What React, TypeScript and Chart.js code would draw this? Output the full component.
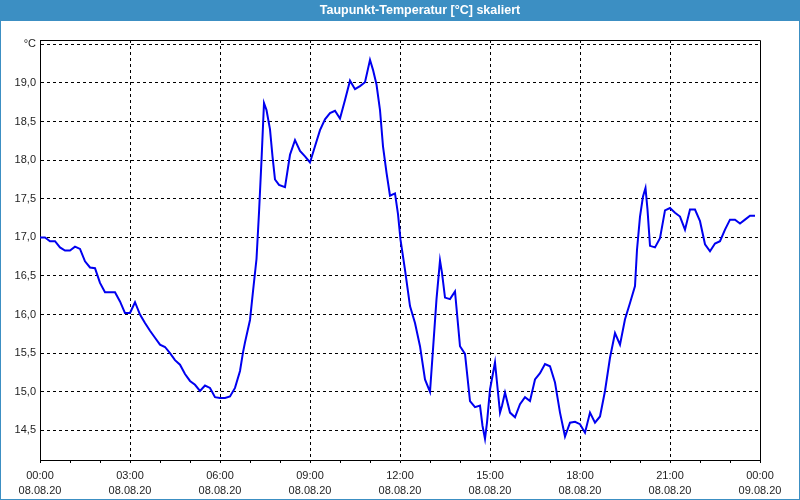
import React, { useEffect, useRef } from "react";
import { Chart, registerables } from "chart.js";

Chart.register(...registerables);

const TITLE = "Taupunkt-Temperatur [°C] skaliert";
const UNIT = "°C";

// minutes since 08.08.20 00:00
const times: number[] = [
  0, 10, 20, 30, 40, 50, 60, 70, 80, 90,
  100, 110, 120, 130, 140, 150, 160, 170, 180, 190,
  200, 210, 220, 230, 240, 250, 260, 270, 280, 290,
  300, 310, 320, 330, 340, 350, 360, 370, 380, 390,
  400, 406, 410, 420, 426, 433, 438, 443, 448, 453,
  460, 465, 470, 478, 490, 500, 510, 520, 530, 540,
  550, 560, 570, 580, 590, 600, 610, 620, 630, 640,
  650, 660, 666, 673, 680, 686, 693, 700, 710, 716,
  721, 730, 740, 750, 760, 770, 780, 786, 793, 800,
  804, 810, 820, 830, 840, 850, 860, 870, 880, 885,
  890, 894, 900, 910, 914, 920, 924, 930, 940, 950,
  960, 970, 980, 990, 1000, 1010, 1020, 1030, 1040, 1050,
  1060, 1070, 1080, 1090, 1100, 1110, 1120, 1130, 1140, 1150,
  1160, 1170, 1180, 1190, 1194, 1200, 1206, 1211, 1215, 1220,
  1230, 1240, 1250, 1260, 1270, 1280, 1290, 1300, 1310, 1320,
  1330, 1340, 1350, 1360, 1370, 1380, 1390, 1400, 1410, 1420,
  1430,
];

const dewPoint: number[] = [
  17.0, 17.0, 16.95, 16.95, 16.87, 16.83, 16.83, 16.88, 16.85, 16.69,
  16.61, 16.6, 16.41, 16.29, 16.29, 16.29, 16.17, 16.02, 16.02, 16.16,
  16.0, 15.89, 15.79, 15.7, 15.61, 15.58, 15.5, 15.41, 15.35, 15.23,
  15.14, 15.09, 15.01, 15.08, 15.05, 14.93, 14.92, 14.92, 14.94, 15.05,
  15.27, 15.51, 15.64, 15.93, 16.3, 16.72, 17.32, 18.0, 18.74, 18.65,
  18.4, 18.05, 17.75, 17.68, 17.65, 18.07, 18.26, 18.12, 18.05, 17.97,
  18.18, 18.39, 18.53, 18.61, 18.64, 18.54, 18.78, 19.03, 18.92, 18.96,
  19.01, 19.3, 19.17, 18.98, 18.65, 18.18, 17.84, 17.54, 17.57, 17.3,
  16.97, 16.58, 16.11, 15.89, 15.59, 15.16, 15.0, 15.55, 16.2, 16.7,
  16.54, 16.22, 16.2, 16.3, 15.59, 15.49, 14.88, 14.8, 14.82, 14.56,
  14.39, 14.6, 15.03, 15.38, 15.12, 14.73, 14.82, 14.99, 14.73, 14.67,
  14.84, 14.93, 14.88, 15.16, 15.24, 15.36, 15.33, 15.12, 14.73, 14.42,
  14.6, 14.61, 14.58, 14.47, 14.73, 14.6, 14.68, 15.01, 15.44, 15.76,
  15.61, 15.94, 16.15, 16.37, 16.84, 17.27, 17.53, 17.64, 17.36, 16.89,
  16.87, 16.99, 17.35, 17.38, 17.32, 17.27, 17.1, 17.36, 17.36, 17.21,
  16.91, 16.82, 16.92, 16.95, 17.1, 17.23, 17.23, 17.18, 17.23, 17.28,
  17.28,
];

const yTicks: number[] = [14.5, 15.0, 15.5, 16.0, 16.5, 17.0, 17.5, 18.0, 18.5, 19.0, 19.5];
const xTickTimes: string[] = ["00:00", "03:00", "06:00", "09:00", "12:00", "15:00", "18:00", "21:00", "00:00"];
const xTickDates: string[] = ["08.08.20", "08.08.20", "08.08.20", "08.08.20", "08.08.20", "08.08.20", "08.08.20", "08.08.20", "09.08.20"];

const Y_MIN = 14.116;
const Y_MAX = 19.557;

const BLUE = "#3c8fc3";
const TEXT = "#1e1e1e";
const FONT = "'Liberation Sans', Arial, sans-serif";

const framePlugin = {
  id: "frame",
  beforeDraw(chart: any) {
    const { ctx, width, height } = chart;
    ctx.save();
    ctx.fillStyle = "#ffffff";
    ctx.fillRect(0, 0, width, height);
    ctx.fillStyle = BLUE;
    ctx.fillRect(0, 0, width, 21);
    ctx.fillRect(0, 0, 1, height);
    ctx.fillRect(width - 1, 0, 1, height);
    ctx.fillRect(0, height - 1, width, 1);
    ctx.fillStyle = "#ffffff";
    ctx.font = `bold 12.5px ${FONT}`;
    ctx.textAlign = "center";
    ctx.textBaseline = "middle";
    ctx.fillText(TITLE, 420, 11);
    ctx.restore();
  },
  afterDraw(chart: any) {
    const { ctx, chartArea } = chart;
    ctx.save();
    ctx.strokeStyle = "#000000";
    ctx.lineWidth = 1;
    ctx.beginPath();
    ctx.moveTo(Math.round(chartArea.left) + 0.5, Math.round(chartArea.top) + 0.5);
    ctx.lineTo(Math.round(chartArea.right) + 0.5, Math.round(chartArea.top) + 0.5);
    ctx.lineTo(Math.round(chartArea.right) + 0.5, Math.round(chartArea.bottom) + 0.5);
    ctx.stroke();
    ctx.restore();
  },
};

export default function App() {
  const ref = useRef<HTMLCanvasElement | null>(null);

  useEffect(() => {
    if (!ref.current) return;
    const points = times.map((t, i) => ({ x: t, y: dewPoint[i] }));
    const chart = new Chart(ref.current, {
      type: "line",
      data: {
        datasets: [
          {
            data: points,
            borderColor: "#0000f0",
            borderWidth: 2,
            pointRadius: 0,
            tension: 0,
            fill: false,
          },
        ],
      },
      options: {
        animation: false,
        responsive: false,
        maintainAspectRatio: false,
        events: [],
        layout: { padding: { left: 0, top: 40, right: 40, bottom: 0 } },
        plugins: {
          legend: { display: false },
          tooltip: { enabled: false },
          title: { display: false },
        },
        scales: {
          x: {
            type: "linear",
            min: 0,
            max: 1440,
            afterFit: (s: any) => {
              s.height = 40;
            },
            ticks: {
              stepSize: 60,
              autoSkip: false,
              maxRotation: 0,
              padding: 5,
              color: TEXT,
              font: { family: FONT, size: 11, lineHeight: 1.4 },
              callback: (v: any) => {
                const n = Number(v);
                if (n % 180 !== 0) return "";
                const i = n / 180;
                return [xTickTimes[i], xTickDates[i]];
              },
            },
            grid: {
              color: (c: any) => {
                const v = c.tick ? c.tick.value : -1;
                return v % 180 === 0 && v > 0 && v < 1440 ? "#000000" : "rgba(0,0,0,0)";
              },
              tickColor: "#000000",
              tickLength: 3,
              lineWidth: 1,
            },
            border: { display: true, color: "#000000", width: 1, dash: [3, 3] },
          },
          y: {
            type: "linear",
            min: Y_MIN,
            max: Y_MAX,
            afterFit: (s: any) => {
              s.width = 40;
            },
            afterBuildTicks: (s: any) => {
              s.ticks = yTicks.map((v) => ({ value: v }));
            },
            ticks: {
              padding: 4,
              color: TEXT,
              font: { family: FONT, size: 11 },
              callback: (v: any) => {
                const n = Number(v);
                if (Math.abs(n - 19.5) < 1e-6) return UNIT;
                return n.toFixed(1).replace(".", ",");
              },
            },
            grid: {
              color: "#000000",
              drawTicks: false,
              lineWidth: 1,
            },
            border: { display: true, color: "#000000", width: 1, dash: [3, 3] },
          },
        },
      },
      plugins: [framePlugin],
    });
    return () => chart.destroy();
  }, []);

  return (
    <div style={{ position: "fixed", left: 0, top: 0, width: 800, height: 500 }}>
      <canvas ref={ref} width={800} height={500} style={{ display: "block" }} />
    </div>
  );
}
